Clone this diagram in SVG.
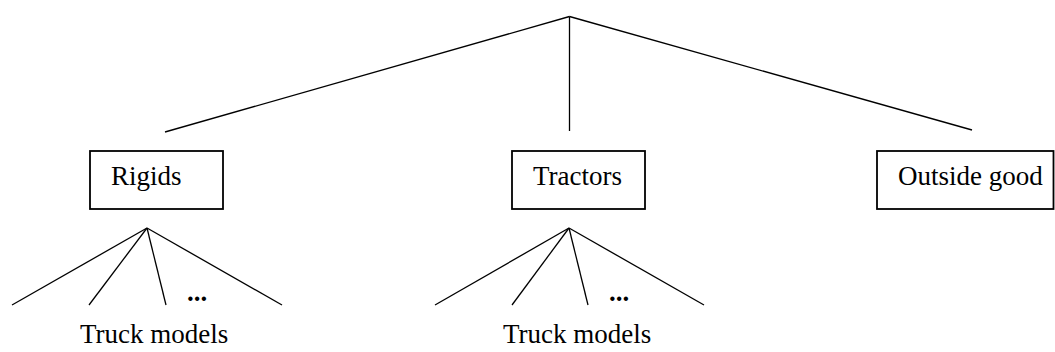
<svg xmlns="http://www.w3.org/2000/svg" width="1055" height="352" viewBox="0 0 1055 352">
<style>
.ln{stroke:#000;stroke-width:1.3;fill:none}
.bx{stroke:#000;stroke-width:1.8;fill:#fff}
.t{font-family:"Liberation Serif","Times New Roman",serif;font-size:27px;fill:#000}
.d{font-family:"Liberation Serif","Times New Roman",serif;font-size:27px;font-weight:bold;fill:#000}
</style>
<rect width="1055" height="352" fill="#fff"/>
<g id="connectors">
<line class="ln" x1="569.5" y1="16.5" x2="165" y2="132"/>
<line class="ln" x1="569.5" y1="16.5" x2="569.5" y2="131"/>
<line class="ln" x1="569.5" y1="16.5" x2="972" y2="130"/>
<line class="ln" x1="147" y1="228" x2="12" y2="305"/>
<line class="ln" x1="147" y1="228" x2="89" y2="305"/>
<line class="ln" x1="147" y1="228" x2="166" y2="305"/>
<line class="ln" x1="147" y1="228" x2="282" y2="305"/>
<line class="ln" x1="569" y1="228" x2="435" y2="305"/>
<line class="ln" x1="569" y1="228" x2="512" y2="305"/>
<line class="ln" x1="569" y1="228" x2="588" y2="305"/>
<line class="ln" x1="569" y1="228" x2="704" y2="305"/>
</g>
<g id="rigids">
<rect class="bx" x="90" y="151" width="133" height="58"/>
<text class="t" x="111" y="185">Rigids</text>
</g>
<g id="tractors">
<rect class="bx" x="512" y="151" width="133" height="58"/>
<text class="t" x="533" y="185">Tractors</text>
</g>
<g id="outside">
<rect class="bx" x="877" y="151" width="176.5" height="58"/>
<text class="t" x="898" y="185">Outside good</text>
</g>
<g id="models1">
<text class="d" x="187" y="301">...</text>
<text class="t" x="80" y="343">Truck models</text>
</g>
<g id="models2">
<text class="d" x="609" y="301">...</text>
<text class="t" x="503" y="343">Truck models</text>
</g>
</svg>
